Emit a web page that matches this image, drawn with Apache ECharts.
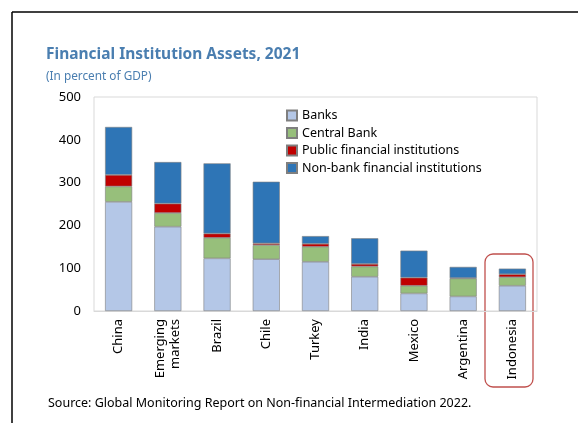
<!DOCTYPE html>
<html><head><meta charset="utf-8">
<script src="https://cdn.jsdelivr.net/npm/echarts@6/dist/echarts.min.js"></script>
<style>html,body{margin:0;padding:0;background:#fff}#c{width:578px;height:423px}</style>
</head><body><div id="c"></div>
<script>
const categories = ['China','Emerging\nmarkets','Brazil','Chile','Turkey','India','Mexico','Argentina','Indonesia'];
const banks = [255,197,123,121,115,80,41,34,59];
const centralBank = [36,32,48,33,35,24,18,42,20];
const publicFI = [27,22,10,4,7,6,19,1,7];
const nonBank = [112,97,164,144,18,60,63,26,13];
const yTicks = [0,100,200,300,400,500];

const font = 'Noto Sans, Open Sans, sans-serif';
const chart = echarts.init(document.getElementById('c'));
function s(name, data, color){
  return {name, type:'bar', stack:'t', data, barWidth:'55%',
    itemStyle:{color, borderColor:'#7f7f7f', borderWidth:0.6}};
}
chart.setOption({
  animation:false,
  title:[{text:'Financial Institution Assets, 2021', left:41, top:42,
    textStyle:{fontFamily:font, fontSize:15.5, fontWeight:'bold', color:'#4a7eb0'}},
    {text:'(In percent of GDP)', left:41, top:66, textStyle:{fontFamily:font, fontSize:11.8, fontWeight:'normal', color:'#4a7eb0'}},
    {text:'Source: Global Monitoring Report on Non-financial Intermediation 2022.', left:43, top:392,
    textStyle:{fontFamily:font, fontSize:12.5, fontWeight:'normal', color:'#000'}}],
  legend:{orient:'vertical', left:281, top:104, itemWidth:10, itemHeight:10, itemGap:4.5,
    icon:'rect', textStyle:{fontFamily:font, fontSize:12.5, color:'#000'},
    data:['Banks','Central Bank','Public financial institutions','Non-bank financial institutions']},
  grid:{left:94, top:97, right:41, bottom:112, show:true, borderColor:'#d9d9d9', borderWidth:1},
  xAxis:{type:'category', data:categories,
    axisLine:{lineStyle:{color:'#d9d9d9'}}, axisTick:{show:false},
    axisLabel:{rotate:90, interval:0, fontFamily:font, fontSize:13, color:'#000', margin:8, lineHeight:15}},
  yAxis:{type:'value', min:yTicks[0], max:yTicks[yTicks.length-1], interval:100,
    splitLine:{show:false}, axisLine:{show:false}, axisTick:{show:false},
    axisLabel:{fontFamily:font, fontSize:13, color:'#000', margin:13}},
  series:[s('Banks',banks,'#b4c7e7'), s('Central Bank',centralBank,'#97bf7b'),
    s('Public financial institutions',publicFI,'#c00000'), s('Non-bank financial institutions',nonBank,'#2e75b6')],
  graphic:[
    {type:'line', shape:{x1:12,y1:12,x2:578,y2:12}, style:{stroke:'#000', lineWidth:1.5}},
    {type:'line', shape:{x1:12,y1:12,x2:12,y2:423}, style:{stroke:'#000', lineWidth:1.5}},
    {type:'rect', shape:{x:485,y:254,width:48,height:133,r:8}, style:{fill:'none', stroke:'#c0504d', lineWidth:1.3}}
  ]
});
</script></body></html>
